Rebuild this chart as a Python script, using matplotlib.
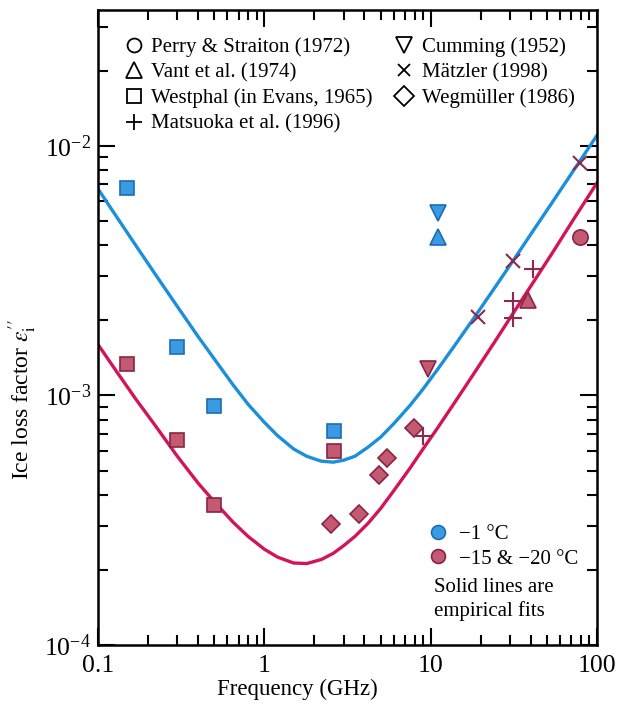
import matplotlib
matplotlib.use("Agg")
import matplotlib.pyplot as plt
from matplotlib.lines import Line2D
from matplotlib.ticker import FixedLocator, FuncFormatter, LogLocator, NullFormatter

plt.rcParams['font.family'] = ['Liberation Serif', 'DejaVu Serif']
plt.rcParams['mathtext.fontset'] = 'stix'

# ---------------- data ----------------
fit_f = [0.1, 0.13, 0.17, 0.22, 0.3, 0.4, 0.5, 0.65, 0.8, 1.0, 1.2, 1.5, 1.8, 2.2, 2.6, 3.0, 3.5,
         4.2, 5.0, 6.0, 7.5, 9.0, 11, 14, 18, 24, 32, 42, 55, 72, 100]
fit_warm_e = [6.72e-3, 5.17e-3, 3.96e-3, 3.07e-3, 2.27e-3, 1.72e-3, 1.40e-3, 1.10e-3, 9.2e-4, 7.8e-4,
              6.9e-4, 6.1e-4, 5.7e-4, 5.45e-4, 5.4e-4, 5.5e-4, 5.7e-4, 6.2e-4, 6.8e-4, 7.7e-4, 9.1e-4,
              1.06e-3, 1.27e-3, 1.59e-3, 2.02e-3, 2.67e-3, 3.54e-3, 4.64e-3, 6.06e-3, 7.93e-3, 1.10e-2]
fit_cold_e = [1.60e-3, 1.24e-3, 9.6e-4, 7.6e-4, 5.7e-4, 4.45e-4, 3.75e-4, 3.10e-4, 2.72e-4, 2.42e-4,
              2.25e-4, 2.13e-4, 2.12e-4, 2.20e-4, 2.33e-4, 2.50e-4, 2.72e-4, 3.07e-4, 3.52e-4, 4.15e-4,
              5.1e-4, 6.1e-4, 7.4e-4, 9.4e-4, 1.21e-3, 1.62e-3, 2.18e-3, 2.88e-3, 3.8e-3, 5.05e-3, 7.1e-3]

# -1 C measurements
westphal_warm_f = [0.15, 0.3, 0.5, 2.63]
westphal_warm_e = [6.78e-3, 1.56e-3, 9.1e-4, 7.2e-4]
cumming_warm_f = [11.1]
cumming_warm_e = [5.38e-3]
vant_warm_f = [11.1]
vant_warm_e = [4.31e-3]

# -15 & -20 C measurements
westphal_cold_f = [0.15, 0.3, 0.5, 2.63]
westphal_cold_e = [1.33e-3, 6.6e-4, 3.65e-4, 6.0e-4]
wegmuller_f = [2.52, 3.71, 4.9, 5.5, 7.9]
wegmuller_e = [3.06e-4, 3.36e-4, 4.8e-4, 5.6e-4, 7.4e-4]
matsuoka_f = [9.0, 31.3, 31.3, 41.3]
matsuoka_e = [6.85e-4, 2.39e-3, 2.04e-3, 3.2e-3]
matzler_f = [19.3, 31.3, 79.0]
matzler_e = [2.06e-3, 3.45e-3, 8.5e-3]
vant_cold_f = [38.5]
vant_cold_e = [2.41e-3]
perry_f = [79.0]
perry_e = [4.31e-3]
cumming_cold_f = [9.65]
cumming_cold_e = [1.28e-3]

legend_labels = ["Perry & Straiton (1972)", "Vant et al. (1974)", "Westphal (in Evans, 1965)",
                 "Matsuoka et al. (1996)", "Cumming (1952)", "Mätzler (1998)", "Wegmüller (1986)"]
temp_labels = ["\u22121 °C", "\u221215 & \u221220 °C"]

# ---------------- style ----------------
BLUE_LINE = "#1b8fdb"
RED_LINE = "#d4145a"
BLUE_FACE = "#3a9be3"
BLUE_EDGE = "#1a6db5"
RED_FACE = "#c45a72"
RED_EDGE = "#8a2443"
CROSS = "#8a2a4e"

fig = plt.figure(figsize=(6.33, 7.13), dpi=100)
ax = fig.add_axes([0.1548, 0.0954, 0.7883, 0.8906])
ax.set_xscale('log')
ax.set_yscale('log')
ax.set_xlim(0.1, 100)
ax.set_ylim(1e-4, 3.5e-2)

ax.plot(fit_f, fit_warm_e, color=BLUE_LINE, lw=2.4, zorder=2, solid_joinstyle='round')
ax.plot(fit_f, fit_cold_e, color=RED_LINE, lw=2.4, zorder=2, solid_joinstyle='round')

blue_kw = dict(ls='none', mfc=BLUE_FACE, mec=BLUE_EDGE, mew=1.2, zorder=3)
red_kw = dict(ls='none', mfc=RED_FACE, mec=RED_EDGE, mew=1.2, zorder=3)

ax.plot(westphal_warm_f, westphal_warm_e, marker='s', ms=10.5, **blue_kw)
ax.plot(cumming_warm_f, cumming_warm_e, marker='v', ms=12, **blue_kw)
ax.plot(vant_warm_f, vant_warm_e, marker='^', ms=12, **blue_kw)

ax.plot(westphal_cold_f, westphal_cold_e, marker='s', ms=10.5, **red_kw)
ax.plot(wegmuller_f, wegmuller_e, marker='D', ms=9.5, **red_kw)
ax.plot(cumming_cold_f, cumming_cold_e, marker='v', ms=12, **red_kw)
ax.plot(vant_cold_f, vant_cold_e, marker='^', ms=12, **red_kw)
ax.plot(perry_f, perry_e, marker='o', ms=11, **red_kw)
ax.plot(matsuoka_f, matsuoka_e, ls='none', marker='+', ms=13, mew=1.5, color=CROSS, zorder=4)
ax.plot(matzler_f, matzler_e, ls='none', marker='x', ms=10, mew=1.5, color=CROSS, zorder=4)

# ticks
ax.xaxis.set_major_locator(FixedLocator([0.1, 1, 10, 100]))
ax.xaxis.set_major_formatter(FuncFormatter(lambda v, p: {0.1: "0.1", 1: "1", 10: "10", 100: "100"}.get(round(v, 3), "")))
ax.xaxis.set_minor_locator(LogLocator(base=10, subs=range(2, 10), numticks=20))
ax.xaxis.set_minor_formatter(NullFormatter())
ax.yaxis.set_major_locator(FixedLocator([1e-4, 1e-3, 1e-2]))
ax.yaxis.set_minor_locator(LogLocator(base=10, subs=range(2, 10), numticks=20))
ax.yaxis.set_minor_formatter(NullFormatter())
ax.tick_params(which='both', direction='in', top=True, right=True, width=1.5, labelsize=18.5)
ax.tick_params(which='major', length=12)
ax.tick_params(which='minor', length=7)
ax.tick_params(axis='x', which='major', pad=7)
ax.tick_params(axis='y', which='major', pad=5)
for s in ax.spines.values():
    s.set_linewidth(1.8)

ax.set_xlabel("Frequency (GHz)", fontsize=16.5)
ax.xaxis.set_label_coords(0.399, -0.054)
ax.set_ylabel(r"Ice loss factor $\varepsilon_{\mathrm{i}}^{\prime\prime}$", fontsize=17)
ax.yaxis.set_label_coords(-0.118, 0.386)

# source legend (open black markers)
mk = ['o', '^', 's', '+', 'v', 'x', 'D']
sizes = [10, 11, 10, 12, 11, 9, 10]
handles = [Line2D([], [], ls='none', marker=m, ms=s, mfc='none', mec='black', mew=1.3, color='black')
           for m, s in zip(mk, sizes)]
leg = ax.legend(handles, legend_labels, ncol=2, loc='upper left', bbox_to_anchor=(0.03, 0.977),
                frameon=False, fontsize=15, handlelength=0.8, handletextpad=0.45,
                columnspacing=1.1, labelspacing=0.29, borderaxespad=0.2)
ax.add_artist(leg)

# temperature legend
th = [Line2D([], [], ls='none', marker='o', ms=10, mfc=BLUE_FACE, mec=BLUE_EDGE, mew=1.2),
      Line2D([], [], ls='none', marker='o', ms=10, mfc=RED_FACE, mec=RED_EDGE, mew=1.2)]
leg2 = ax.legend(th, temp_labels, loc='upper left', bbox_to_anchor=(0.647, 0.203),
                 frameon=False, fontsize=15, handlelength=0.8, handletextpad=0.65,
                 labelspacing=0.245, borderaxespad=0.0)
ax.text(0.673, 0.106, "Solid lines are\nempirical fits", transform=ax.transAxes,
        fontsize=15, va='top', ha='left', linespacing=1.32)

fig.savefig("out.png", dpi=100)
